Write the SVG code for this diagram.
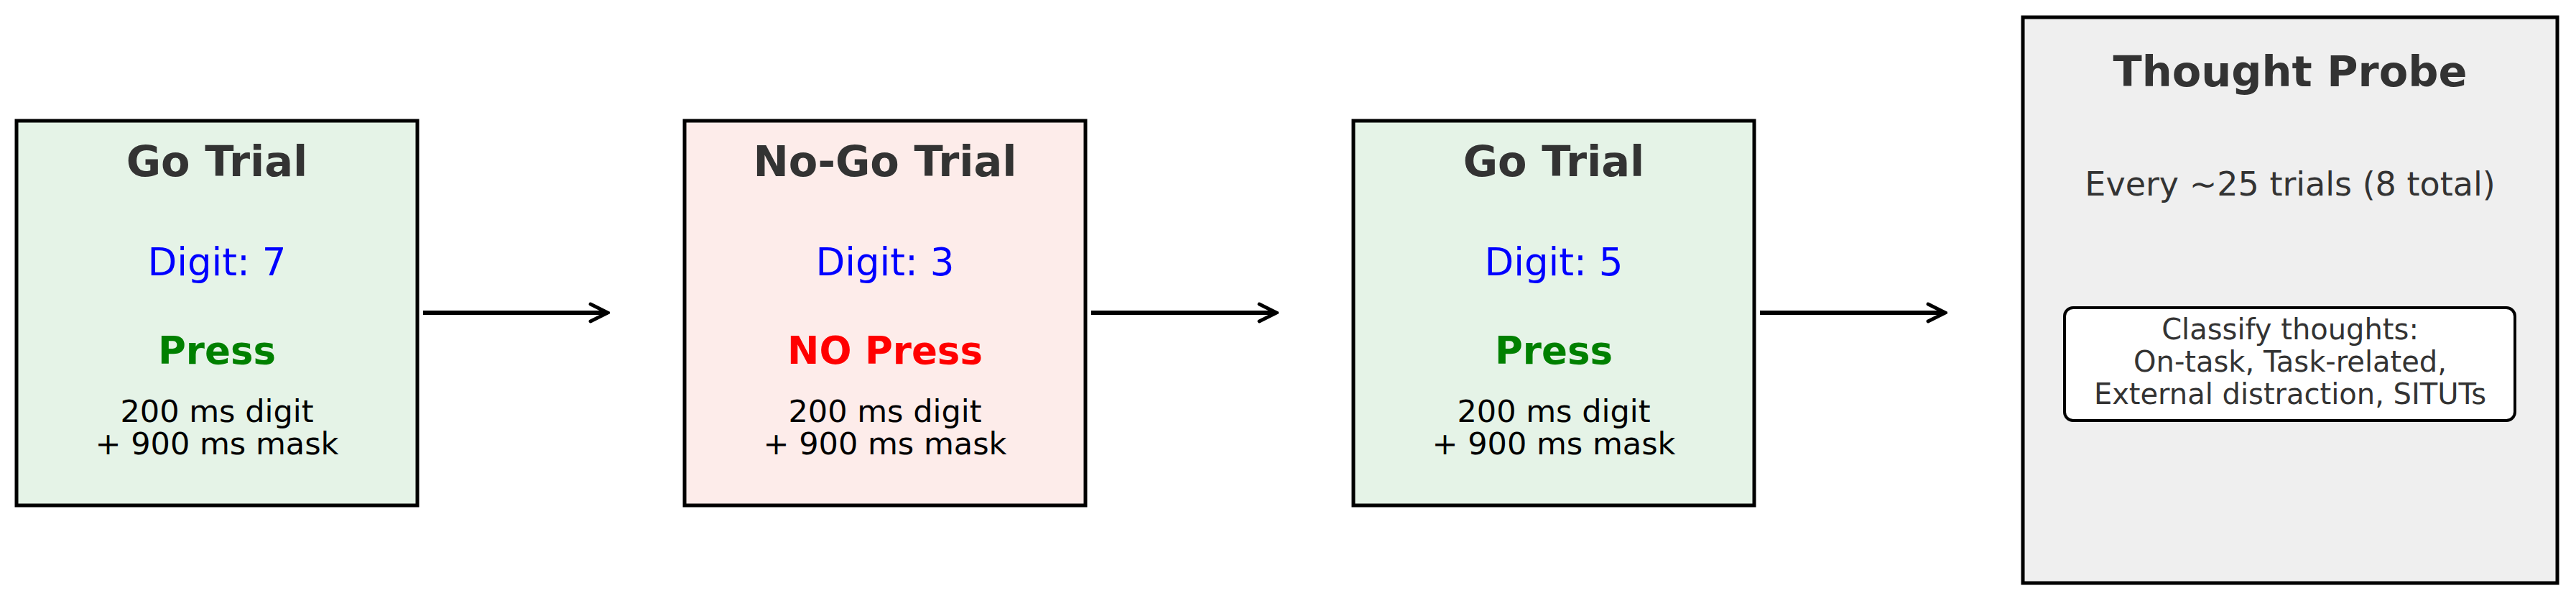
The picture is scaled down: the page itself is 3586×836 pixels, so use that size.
<svg xmlns="http://www.w3.org/2000/svg" width="3586" height="836" viewBox="0 0 3586 836">
<style>
text{font-family:"DejaVu Sans",sans-serif;text-anchor:middle}
.box{stroke:#000;stroke-width:5}
.t{font-size:59px;font-weight:bold;fill:#333}
.d{font-size:53px;fill:#0000ff}
.p{font-size:53px;font-weight:bold}
.s{font-size:43px;fill:#000}
.c{stroke:#000;stroke-width:6;fill:none}
</style>
<defs><marker id="ah" viewBox="0 0 10 10" refX="9" refY="5" markerWidth="5" markerHeight="5" markerUnits="strokeWidth" orient="auto"><path d="M1,1 L9,5 L1,9" fill="none" stroke="#000" stroke-width="1.6" stroke-linecap="round"/></marker></defs>
<rect width="3586" height="836" fill="#fff"/>
<g id="go1"><rect class="box" x="23" y="168" width="558" height="535" fill="#e5f3e7"/>
<text class="t" x="302" y="245">Go Trial</text><text class="d" x="302" y="383">Digit: 7</text>
<text class="p" x="302" y="506" fill="#008000">Press</text>
<text class="s" x="302" y="587">200 ms digit</text><text class="s" x="302" y="632">+ 900 ms mask</text></g>
<g id="nogo"><rect class="box" x="953" y="168" width="558" height="535" fill="#fdecea"/>
<text class="t" x="1232" y="245">No-Go Trial</text><text class="d" x="1232" y="383">Digit: 3</text>
<text class="p" x="1232" y="506" fill="#ff0000">NO Press</text>
<text class="s" x="1232" y="587">200 ms digit</text><text class="s" x="1232" y="632">+ 900 ms mask</text></g>
<g id="go2"><rect class="box" x="1884" y="168" width="558" height="535" fill="#e5f3e7"/>
<text class="t" x="2163" y="245">Go Trial</text><text class="d" x="2163" y="383">Digit: 5</text>
<text class="p" x="2163" y="506" fill="#008000">Press</text>
<text class="s" x="2163" y="587">200 ms digit</text><text class="s" x="2163" y="632">+ 900 ms mask</text></g>
<g id="probe"><rect class="box" x="2816" y="24" width="744" height="787" fill="#efefef"/>
<text class="t" x="3188" y="120">Thought Probe</text>
<text x="3188" y="272" font-size="46" fill="#333">Every ~25 trials (8 total)</text>
<rect x="2874" y="428" width="627" height="157" rx="12" fill="#fff" stroke="#000" stroke-width="4"/>
<text x="3188" y="472" font-size="40" fill="#333">Classify thoughts:</text>
<text x="3188" y="517" font-size="40" fill="#333">On-task, Task-related,</text>
<text x="3188" y="562" font-size="40" fill="#333">External distraction, SITUTs</text></g>
<g id="connectors">
<line class="c" x1="589" y1="435" x2="846" y2="435" marker-end="url(#ah)"/>
<line class="c" x1="1519" y1="435" x2="1777" y2="435" marker-end="url(#ah)"/>
<line class="c" x1="2450" y1="435" x2="2708" y2="435" marker-end="url(#ah)"/>
</g>
</svg>
